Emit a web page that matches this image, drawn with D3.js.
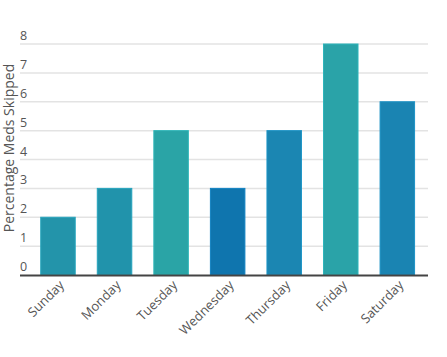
<!DOCTYPE html>
<html><head><meta charset="utf-8">
<script src="https://cdn.jsdelivr.net/npm/d3@7"></script>
<style>body{margin:0;background:#fff}svg{display:block}text{font-family:"Open Sans",sans-serif}</style>
</head><body><svg id="c" width="447" height="357"></svg>
<script>
const days = ["Sunday","Monday","Tuesday","Wednesday","Thursday","Friday","Saturday"];
const values = [2,3,5,3,5,8,6];
const colors = ["#2394aa","#2193ab","#2aa4a6","#0f75ae","#1b86b2","#2aa3a8","#1a84b2"];
const yTicks = [0,1,2,3,4,5,6,7,8];
const yLabel = "Percentage Meds Skipped";

const svg = d3.select("#c");
const y = d3.scaleLinear().domain([0,8]).range([275,44]);
const x = d3.scaleBand().domain(days).range([29.7,425.6]).paddingInner(0.39).paddingOuter(0.195);

// gridlines
svg.append("g").selectAll("line").data(yTicks.filter(d=>d>0)).join("line")
  .attr("x1",20).attr("x2",428).attr("y1",d=>y(d)).attr("y2",d=>y(d))
  .attr("stroke","#e3e3e3").attr("stroke-width",1.5);

// y tick labels
svg.append("g").selectAll("text").data(yTicks).join("text")
  .attr("x",20).attr("y",d=>y(d)-4).attr("font-size",12.5).attr("fill","#555").text(d=>d);

// bars
svg.append("g").selectAll("rect").data(values).join("rect")
  .attr("x",(d,i)=>x(days[i])).attr("width",x.bandwidth())
  .attr("y",d=>y(d)).attr("height",d=>y(0)-y(d))
  .attr("fill",(d,i)=>colors[i])
  .attr("stroke",(d,i)=>d3.color(colors[i]).brighter(0.3)).attr("stroke-width",1);

// baseline
svg.append("line").attr("x1",20).attr("x2",428).attr("y1",y(0)+0.5).attr("y2",y(0)+0.5)
  .attr("stroke","#444").attr("stroke-width",2);

// x labels
svg.append("g").selectAll("text").data(days).join("text")
  .attr("transform",d=>`translate(${x(d)+x.bandwidth()/2+7},${y(0)+11}) rotate(-45)`)
  .attr("text-anchor","end").attr("font-size",13).attr("fill","#555").text(d=>d);

// y label
svg.append("text").attr("transform","translate(14,148) rotate(-90)")
  .attr("text-anchor","middle").attr("font-size",14).attr("fill","#555").text(yLabel);
</script></body></html>
